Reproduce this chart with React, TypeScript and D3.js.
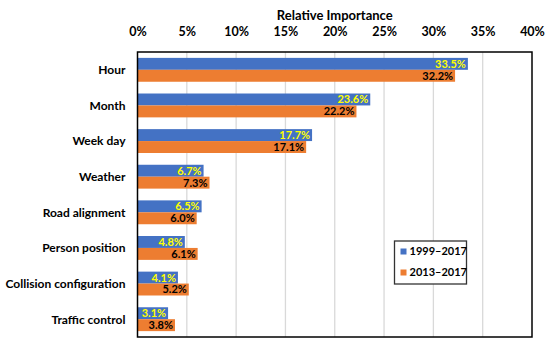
import React, { useRef, useEffect } from "react";
import * as d3 from "d3";

const categories = [
  "Hour",
  "Month",
  "Week day",
  "Weather",
  "Road alignment",
  "Person position",
  "Collision configuration",
  "Traffic control",
];
const series1999 = [33.5, 23.6, 17.7, 6.7, 6.5, 4.8, 4.1, 3.1];
const series2013 = [32.2, 22.2, 17.1, 7.3, 6.0, 6.1, 5.2, 3.8];
const seriesNames = ["1999–2017", "2013–2017"];
const xTicks = [0, 5, 10, 15, 20, 25, 30, 35, 40];

const W = 550;
const H = 348;
const FONT = "Lato, 'Open Sans', sans-serif";

const App: React.FC = () => {
  const svgRef = useRef<SVGSVGElement>(null);

  useEffect(() => {
    if (!svgRef.current) return;
    const svg = d3.select(svgRef.current);
    svg.selectAll("*").remove();

    const margin = { top: 52, right: 18, bottom: 11, left: 137.5 };
    const innerW = W - margin.left - margin.right;
    const innerH = H - margin.top - margin.bottom;

    const x = d3.scaleLinear().domain([0, 40]).range([0, innerW]);
    const y = d3
      .scaleBand<string>()
      .domain(categories)
      .range([0, innerH])
      .paddingInner(0.33)
      .paddingOuter(0.165);
    const sub = d3
      .scaleBand<string>()
      .domain(seriesNames)
      .range([0, y.bandwidth()]);
    const color = d3.scaleOrdinal<string, string>().domain(seriesNames).range(["#4472C4", "#ED7D31"]);

    const g = svg.append("g").attr("transform", `translate(${margin.left},${margin.top})`);

    // gridlines
    g.selectAll("line.grid")
      .data(xTicks.slice(1, -1))
      .enter()
      .append("line")
      .attr("x1", (d) => x(d))
      .attr("x2", (d) => x(d))
      .attr("y1", 0)
      .attr("y2", innerH)
      .attr("stroke", "#d9d9d9")
      .attr("stroke-width", 1.3);

    // top axis
    const axis = g
      .append("g")
      .call(
        d3
          .axisTop(x)
          .tickValues(xTicks)
          .tickSize(0)
          .tickFormat((d) => `${d}%`)
      );
    axis.select(".domain").remove();
    axis
      .selectAll("text")
      .attr("y", -16)
      .style("font-family", FONT)
      .style("font-weight", "bold")
      .style("font-size", "12.5px")
      .attr("fill", "#000");

    // title
    svg
      .append("text")
      .attr("x", margin.left + innerW / 2)
      .attr("y", 20)
      .attr("text-anchor", "middle")
      .style("font-family", FONT)
      .style("font-weight", "bold")
      .style("font-size", "13px")
      .text("Relative Importance");

    const allSeries = [series1999, series2013];

    categories.forEach((cat, i) => {
      allSeries.forEach((vals, s) => {
        const name = seriesNames[s];
        const by = y(cat)! + sub(name)!;
        const bw = x(vals[i]);
        g.append("rect")
          .attr("x", 0)
          .attr("y", by)
          .attr("width", bw)
          .attr("height", sub.bandwidth())
          .attr("fill", color(name));
        g.append("text")
          .attr("x", bw - 2)
          .attr("y", by + sub.bandwidth() / 2)
          .attr("dy", "0.36em")
          .attr("text-anchor", "end")
          .style("font-family", FONT)
          .style("font-weight", "bold")
          .style("font-size", "11px")
          .attr("fill", s === 0 ? "#FFFF00" : "#000")
          .text(`${vals[i].toFixed(1)}%`);
      });
      // category label
      g.append("text")
        .attr("x", -12)
        .attr("y", y(cat)! + y.bandwidth() / 2)
        .attr("dy", "0.36em")
        .attr("text-anchor", "end")
        .style("font-family", FONT)
        .style("font-weight", "bold")
        .style("font-size", "12px")
        .attr("fill", "#000")
        .text(cat);
    });

    // frame
    g.append("rect")
      .attr("x", 0)
      .attr("y", 0)
      .attr("width", innerW)
      .attr("height", innerH)
      .attr("fill", "none")
      .attr("stroke", "#000")
      .attr("stroke-width", 1.5);

    // legend
    const lg = svg.append("g").attr("transform", "translate(394.5,241)");
    lg.append("rect")
      .attr("width", 72)
      .attr("height", 43)
      .attr("fill", "#fff")
      .attr("stroke", "#333")
      .attr("stroke-width", 1.3);
    seriesNames.forEach((name, i) => {
      const ly = 10.5 + i * 21;
      lg.append("rect")
        .attr("x", 6)
        .attr("y", ly - 3)
        .attr("width", 6)
        .attr("height", 6)
        .attr("fill", color(name));
      lg.append("text")
        .attr("x", 15)
        .attr("y", ly)
        .attr("dy", "0.36em")
        .style("font-family", FONT)
        .style("font-weight", "bold")
        .style("font-size", "11px")
        .text(name);
    });
  }, []);

  return (
    <div style={{ position: "absolute", left: 0, top: 0 }}>
      <svg ref={svgRef} width={W} height={H} style={{ display: "block", background: "#fff" }} />
    </div>
  );
};

export default App;
